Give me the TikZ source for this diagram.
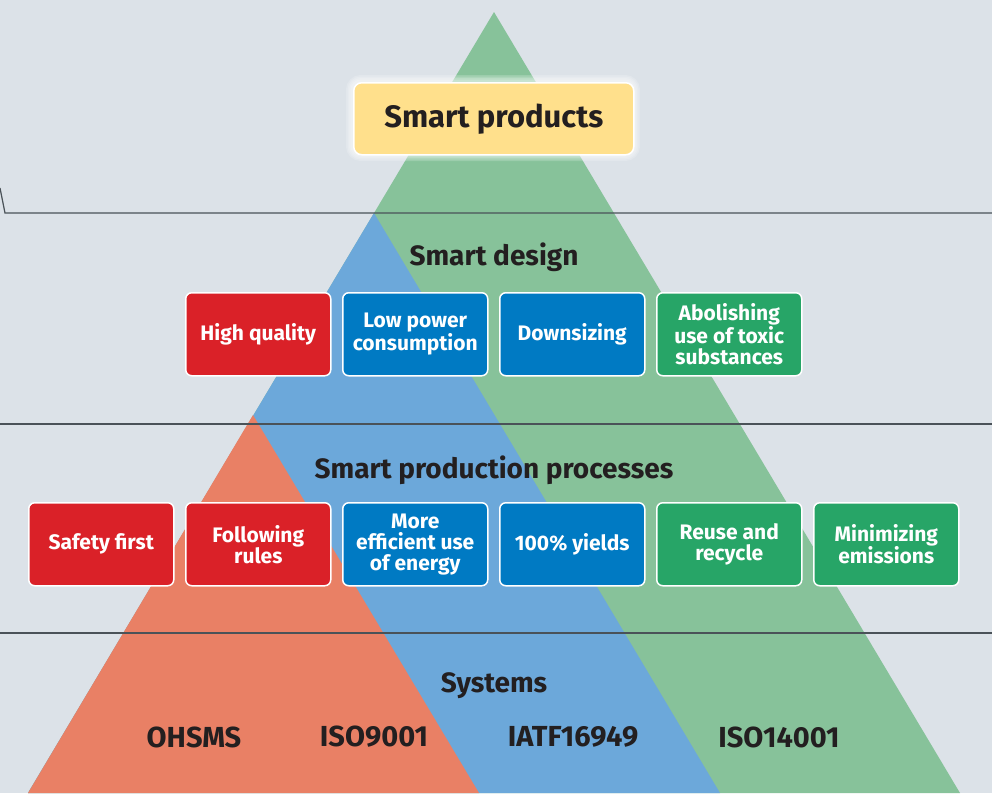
\documentclass[tikz,border=0pt]{standalone}
\usepackage{fontspec}
\setmainfont{Fira Sans}
\definecolor{bg}{HTML}{DCE2E8}
\definecolor{trigreen}{HTML}{87C29A}
\definecolor{triblue}{HTML}{6CA8DA}
\definecolor{trired}{HTML}{E98065}
\definecolor{boxred}{HTML}{DA2128}
\definecolor{boxblue}{HTML}{007AC3}
\definecolor{boxgreen}{HTML}{27A567}
\definecolor{boxyellow}{HTML}{FFE08C}
\definecolor{ink}{HTML}{231F20}
\definecolor{sepline}{HTML}{4A5258}
\tikzset{
  cbox/.style={draw=white, line width=1.5pt, rounded corners=6pt, minimum width=145pt, minimum height=83pt,
    text=white, font=\bfseries\fontsize{21}{21}\selectfont, align=center, inner sep=0pt, anchor=north west},
  redbox/.style={cbox, fill=boxred},
  bluebox/.style={cbox, fill=boxblue},
  greenbox/.style={cbox, fill=boxgreen},
  heading/.style={text=ink, font=\bfseries\fontsize{28}{30}\selectfont, inner sep=0pt},
  syslabel/.style={text=ink, font=\bfseries\fontsize{29}{30}\selectfont, inner sep=0pt},
  sep/.style={draw=sepline, line width=1.2pt}
}
\begin{document}
\begin{tikzpicture}[x=1pt,y=-1pt]
\useasboundingbox (0,0) rectangle (992,793);
\clip (0,0) rectangle (992,793);
\fill[bg] (0,0) rectangle (992,793);
% triangles
\fill[trigreen] (28,793) -- (494,12) -- (960,793) -- cycle;
\fill[triblue] (28,793) -- (374,213) -- (720,793) -- cycle;
\fill[trired] (28,793) -- (253,415) -- (479,793) -- cycle;
% separator lines
\draw[sep] (0,188) -- (5,213) -- (992,213);
\draw[sep] (0,424) -- (992,424);
\draw[sep] (0,633) -- (992,633);
% smart products glow
\foreach \w in {14,11,8,5}
  \draw[white, opacity=0.18, line width=\w pt, rounded corners=8pt] (353,82) rectangle (633,154);
\node[draw=white, line width=1.5pt, fill=boxyellow, rounded corners=8pt, minimum width=280pt, minimum height=72pt,
  inner sep=0pt, anchor=north west, text=ink, font=\bfseries\fontsize{31}{33}\selectfont] (products) at (353,82) {Smart products};
% headings
\node[heading] (design) at (494,257) {Smart design};
\node[heading] (processes) at (494,470) {Smart production processes};
\node[heading] (systems) at (494,686) {Systems};
% design row
\node[redbox] (quality) at (185,292) {High quality};
\node[bluebox] (lowpower) at (342,292) {Low power\\consumption};
\node[bluebox] (downsizing) at (499,292) {Downsizing};
\node[greenbox] (toxic) at (656,292) {Abolishing\\use of toxic\\substances};
% processes row
\node[redbox] (safety) at (28,502) {Safety first};
\node[redbox] (rules) at (185,502) {Following\\rules};
\node[bluebox] (energy) at (342,502) {More\\efficient use\\of energy};
\node[bluebox] (yields) at (499,502) {100\% yields};
\node[greenbox] (reuse) at (656,502) {Reuse and\\recycle};
\node[greenbox] (emissions) at (813,502) {Minimizing\\emissions};
% systems
\node[syslabel] (ohsms) at (194,737) {OHSMS};
\node[syslabel] (iso9001) at (374,737) {ISO9001};
\node[syslabel] (iatf) at (573,737) {IATF16949};
\node[syslabel] (iso14001) at (779,737) {ISO14001};
\end{tikzpicture}
\end{document}
